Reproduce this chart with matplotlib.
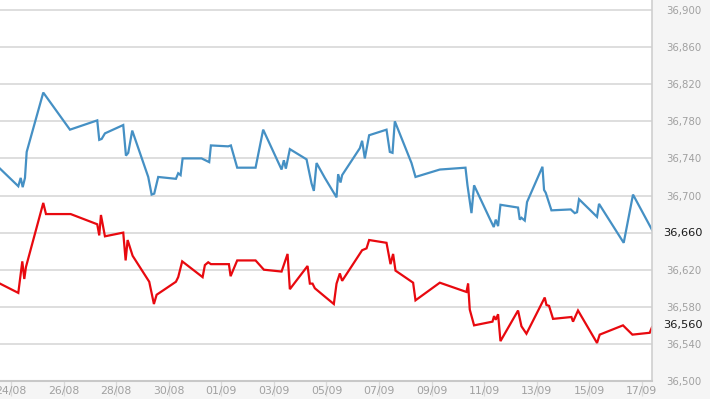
import matplotlib
matplotlib.use("Agg")
import matplotlib.pyplot as plt

# days counted from 24/08
blue_days = [-0.418, 0.278, 0.369, 0.445, 0.532, 0.597, 1.228, 2.243, 3.281, 3.357,
             3.449, 3.574, 4.270, 4.373, 4.460, 4.612, 5.221, 5.350, 5.449, 5.601,
             6.274, 6.361, 6.452, 6.529, 7.251, 7.540, 7.605, 8.262, 8.365, 8.605,
             9.304, 9.593, 10.293, 10.380, 10.456, 10.608, 11.243, 11.433, 11.521, 11.624,
             11.939, 12.384, 12.445, 12.536, 12.597, 13.270, 13.357, 13.460, 13.624, 14.285,
             14.411, 14.513, 14.601, 15.236, 15.388, 16.312, 17.289, 17.365, 17.517, 17.616,
             18.213, 18.365, 18.441, 18.529, 18.620, 19.289, 19.354, 19.418, 19.544, 19.631,
             20.217, 20.278, 20.342, 20.559, 21.293, 21.445, 21.532, 21.608, 22.293, 22.369,
             23.308, 23.662, 24.384]
blue_vals = [36729, 36710, 36719, 36709, 36719, 36747, 36811, 36771, 36781, 36760,
             36761, 36767, 36776, 36743, 36746, 36770, 36720, 36701, 36702, 36720,
             36718, 36724, 36722, 36740, 36740, 36736, 36754, 36753, 36754, 36730,
             36730, 36771, 36728, 36738, 36729, 36750, 36739, 36713, 36705, 36735,
             36719, 36698, 36723, 36714, 36722, 36751, 36759, 36740, 36765, 36771,
             36747, 36746, 36780, 36735, 36720, 36728, 36730, 36711, 36681, 36711,
             36675, 36666, 36674, 36667, 36690, 36687, 36674, 36676, 36673, 36693,
             36731, 36706, 36703, 36684, 36685, 36681, 36682, 36696, 36677, 36691,
             36649, 36701, 36663]

red_days = [-0.418, 0.278, 0.430, 0.506, 0.570, 1.228, 1.331, 2.270, 3.281, 3.357,
            3.422, 3.574, 4.270, 4.361, 4.437, 4.627, 5.259, 5.437, 5.540, 5.856,
            6.274, 6.361, 6.513, 7.289, 7.376, 7.502, 7.605, 8.289, 8.354, 8.605,
            9.304, 9.620, 10.293, 10.521, 10.608, 11.281, 11.369, 11.471, 11.559, 11.939,
            12.281, 12.384, 12.510, 12.597, 13.357, 13.525, 13.624, 14.285, 14.437, 14.536,
            14.627, 15.297, 15.388, 16.312, 17.327, 17.388, 17.452, 17.616, 18.316, 18.376,
            18.441, 18.529, 18.620, 19.289, 19.418, 19.608, 20.304, 20.369, 20.468, 20.620,
            21.319, 21.380, 21.570, 22.293, 22.395, 23.281, 23.639, 24.297, 24.384]
red_vals = [36605, 36595, 36629, 36610, 36623, 36692, 36680, 36680, 36669, 36657,
            36679, 36656, 36660, 36630, 36652, 36635, 36607, 36583, 36593, 36599,
            36607, 36612, 36629, 36612, 36625, 36628, 36626, 36626, 36613, 36630,
            36630, 36620, 36618, 36637, 36599, 36624, 36605, 36605, 36600, 36591,
            36583, 36605, 36616, 36608, 36641, 36643, 36652, 36649, 36626, 36637,
            36619, 36606, 36587, 36606, 36596, 36605, 36577, 36560, 36564, 36570,
            36566, 36572, 36543, 36576, 36559, 36551, 36590, 36582, 36581, 36567,
            36569, 36564, 36576, 36541, 36550, 36560, 36550, 36552, 36558]

tick_days = [0, 2, 4, 6, 8, 10, 12, 14, 16, 18, 20, 22, 24]
tick_labels = ["24/08", "26/08", "28/08", "30/08", "01/09", "03/09", "05/09",
               "07/09", "09/09", "11/09", "13/09", "15/09", "17/09"]
y_ticks = [36500, 36540, 36580, 36620, 36660, 36700, 36740, 36780, 36820, 36860, 36900]
last_labels = [36660, 36560]

# grey surround, white plotting area running up to the top edge
fig = plt.figure(figsize=(7.1, 3.99), dpi=100, facecolor="#f5f5f5")
ax = fig.add_axes([0.0, 0.0451, 0.9183, 0.9549], facecolor="white")

ax.plot(blue_days, blue_vals, color="#4590c4", lw=1.6, solid_joinstyle="miter")
ax.plot(red_days, red_vals, color="#e8090f", lw=1.6, solid_joinstyle="miter")

ax.set_xlim(-0.418, 24.384)
ax.set_ylim(36500, 36910.8)

ax.set_yticks(y_ticks)
# the grey label is replaced by the dark one where a series ends on it
ax.set_yticklabels(["" if v in last_labels else "{:,}".format(v) for v in y_ticks])
ax.yaxis.tick_right()
ax.tick_params(axis="y", length=0, pad=9.9, labelsize=7.3, labelcolor="#a0a0a0")
ax.grid(axis="y", color="#d4d4d4", lw=1.1)
ax.set_axisbelow(True)

ax.set_xticks(tick_days)
ax.set_xticklabels(tick_labels)
ax.tick_params(axis="x", length=11, width=0.9, color="#dadada", pad=-7.5,
               labelsize=7.8, labelcolor="#a0a0a0")

for s in ["left", "top"]:
    ax.spines[s].set_visible(False)
ax.spines["right"].set_color("#cfcfcf")
ax.spines["right"].set_linewidth(1.2)
ax.spines["bottom"].set_color("#c8c8c8")
ax.spines["bottom"].set_linewidth(1.5)

# current values shown in dark on the right axis
for v in last_labels:
    ax.annotate("{:,}".format(v), xy=(1, v), xycoords=("axes fraction", "data"),
                xytext=(7.9, 0), textcoords="offset points", ha="left", va="center",
                fontsize=8.2, color="#1a1a1a", annotation_clip=False)

fig.savefig("out.png", dpi=100, facecolor=fig.get_facecolor())
